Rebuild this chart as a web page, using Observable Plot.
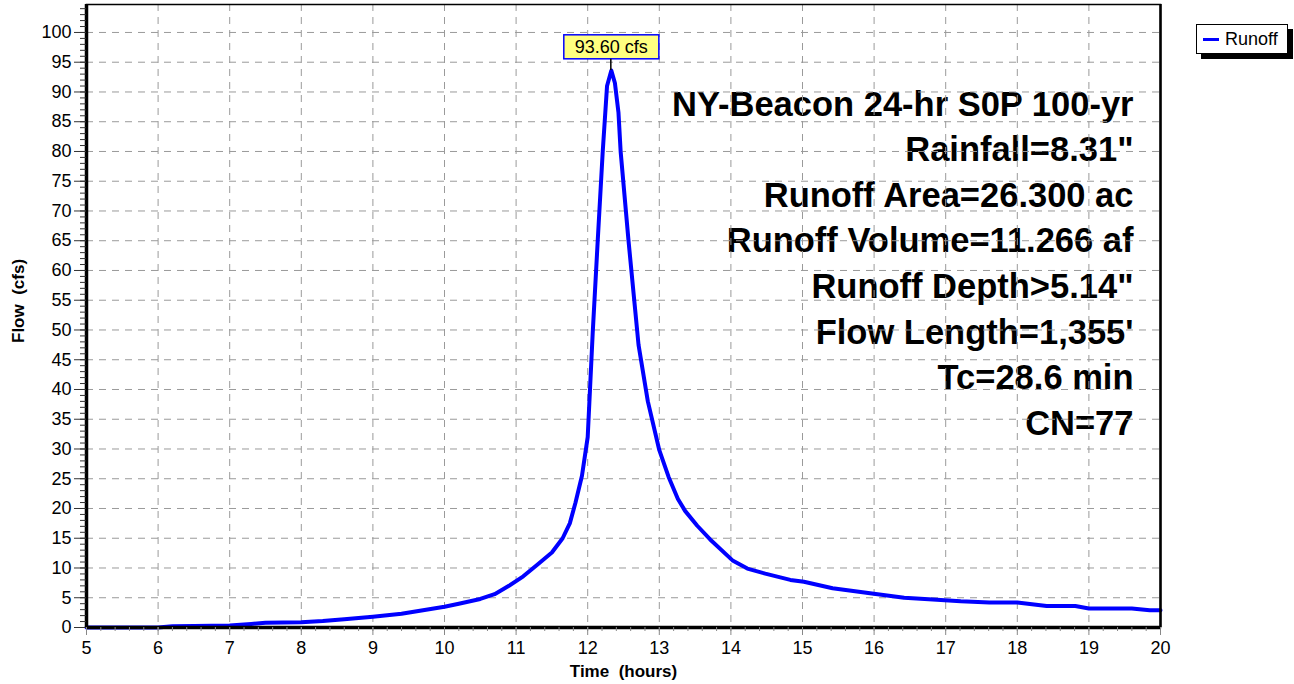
<!DOCTYPE html>
<html>
<head>
<meta charset="utf-8">
<script src="https://cdn.jsdelivr.net/npm/d3@7"></script>
<script src="https://cdn.jsdelivr.net/npm/@observablehq/plot@0.6"></script>
<style>
  body { margin: 0; background: #fff; }
  #wrap { position: relative; width: 1294px; height: 684px; }
  #legend { position: absolute; left: 1196px; top: 24px; width: 90px; height: 28px;
    border: 1px solid #000; background: #fff; box-shadow: 5px 5px 0 #000;
    font: 18px "Liberation Sans", Arial, sans-serif; color: #000; }
  #legend .sw { position: absolute; left: 6px; top: 13px; width: 16px; height: 3px; background: #0000ff; }
  #legend .lb { position: absolute; left: 28px; top: 0; line-height: 28px; }
</style>
</head>
<body>
<div id="wrap">
  <div id="legend"><span class="sw"></span><span class="lb" id="legendLabel"></span></div>
</div>
<script>
const seriesName = "Runoff";
const times = [5.0, 6.0, 6.2, 6.5, 7.0, 7.3, 7.5, 8.0, 8.3, 8.6, 9.0, 9.4, 9.7, 10.0, 10.2, 10.5, 10.7, 10.9,
  11.1, 11.3, 11.5, 11.65, 11.75, 11.83, 11.92, 12.0, 12.07, 12.14, 12.21, 12.27, 12.33, 12.38, 12.43, 12.46,
  12.57, 12.65, 12.71, 12.84, 13.0, 13.13, 13.26, 13.36, 13.53, 13.71, 14.03, 14.23, 14.48, 14.83, 15.02,
  15.42, 15.97, 16.42, 16.82, 17.21, 17.61, 18.0, 18.41, 18.81, 19.0, 19.6, 19.85, 20.0];
const flows = [0, 0, 0.2, 0.25, 0.35, 0.6, 0.8, 0.9, 1.1, 1.4, 1.8, 2.3, 2.9, 3.5, 4.0, 4.8, 5.6, 7.0,
  8.6, 10.6, 12.6, 15.0, 17.5, 21.0, 25.5, 32.0, 49.5, 65.0, 80.0, 91.0, 93.6, 91.5, 86.5, 80.0,
  65.0, 55.0, 47.5, 38.0, 29.8, 25.3, 21.6, 19.6, 17.1, 14.8, 11.2, 9.9, 9.05, 8.0, 7.7,
  6.6, 5.7, 5.0, 4.7, 4.4, 4.2, 4.2, 3.6, 3.6, 3.2, 3.2, 2.9, 2.9];
const peakTime = 12.33;
const peakFlow = 93.60;
const statsLines = ["NY-Beacon 24-hr S0P 100-yr", "Rainfall=8.31\"", "Runoff Area=26.300 ac",
  "Runoff Volume=11.266 af", "Runoff Depth>5.14\"", "Flow Length=1,355'", "Tc=28.6 min", "CN=77"];
const xLabel = "Time\u00a0 (hours)";
const yLabel = "Flow\u00a0 (cfs)";
const xMajor = [5, 6, 7, 8, 9, 10, 11, 12, 13, 14, 15, 16, 17, 18, 19, 20];
const yMajor = [0, 5, 10, 15, 20, 25, 30, 35, 40, 45, 50, 55, 60, 65, 70, 75, 80, 85, 90, 95, 100];
const xMinor = d3.range(0, 76).map(i => 5 + i * 0.2);
const yMinor = d3.range(0, 105);

const data = times.map((t, i) => ({t, v: flows[i]}));
const peakLabel = `${peakFlow.toFixed(2)} cfs`;
const FONT = "'Liberation Sans', Arial, Helvetica, sans-serif";

const plot = Plot.plot({
  width: 1294, height: 684,
  marginLeft: 86, marginRight: 134, marginTop: 4, marginBottom: 57,
  x: {domain: [5, 20]},
  y: {domain: [0, 104.7]},
  style: {fontFamily: FONT, fontSize: "18px", background: "white", color: "black", overflow: "visible"},
  marks: [
    Plot.text([statsLines.join("\n")], {frameAnchor: "top-right", textAnchor: "end", lineAnchor: "top",
      dx: -27, dy: 79, fontSize: 34.5, fontWeight: "bold", lineHeight: 1.32, fill: "black"}),
    Plot.gridX(xMajor.slice(1, -1), {stroke: "#9a9a9a", strokeOpacity: 1, strokeDasharray: "7,6"}),
    Plot.gridY(yMajor.slice(1), {stroke: "#9a9a9a", strokeOpacity: 1, strokeDasharray: "7,6"}),
    Plot.line(data, {x: "t", y: "v", stroke: "#0000ff", strokeWidth: 4}),
    Plot.frame({stroke: "black", strokeWidth: 1.5}),
    Plot.ruleX([20], {stroke: "black", strokeWidth: 2.5}),
    Plot.ruleX([5], {stroke: "black", strokeWidth: 3.5}),
    Plot.ruleY([0], {stroke: "black", strokeWidth: 3.5}),
    Plot.axisY(yMinor, {tickSize: 6, fill: "none", stroke: "#333", label: null}),
    Plot.axisY(yMajor, {tickSize: 12, tickPadding: 3, stroke: "#333", fill: "black", fontSize: 18, label: null}),
    Plot.axisX(xMinor, {tickSize: 4, fill: "none", stroke: "#888", label: null}),
    Plot.axisX(xMajor, {tickSize: 8, tickPadding: 6, stroke: "#888", fill: "black", fontSize: 18, label: null}),
    Plot.text([yLabel], {frameAnchor: "left", rotate: -90, dx: -68, dy: 27, fontSize: 17, fontWeight: "bold", fill: "black"}),
    Plot.text([xLabel], {frameAnchor: "bottom", lineAnchor: "middle", dy: 44, fontSize: 17, fontWeight: "bold", fill: "black"}),
    Plot.text([{t: peakTime, v: peakFlow}], {x: "t", y: "v", text: () => peakLabel, dy: -23.5,
      lineAnchor: "middle", fontSize: 18, fill: "black"})
  ]
});

const wrap = document.getElementById("wrap");
wrap.insertBefore(plot, wrap.firstChild);
plot.style.position = "absolute"; plot.style.left = "0"; plot.style.top = "0";
document.getElementById("legendLabel").textContent = seriesName;

// peak callout box + leader line, positioned from Plot's own scales and text
const ns = "http://www.w3.org/2000/svg";
const txt = Array.from(plot.querySelectorAll("text")).find(e => e.textContent === peakLabel);
if (txt) {
  const sb = plot.getBoundingClientRect(), tb = txt.getBoundingClientRect();
  const bx = tb.left - sb.left - 11, by = tb.top - sb.top - 2, bw = tb.width + 22, bh = tb.height + 4;
  const rect = document.createElementNS(ns, "rect");
  rect.setAttribute("x", bx); rect.setAttribute("y", by);
  rect.setAttribute("width", bw); rect.setAttribute("height", bh);
  rect.setAttribute("fill", "#ffff80"); rect.setAttribute("stroke", "#0000ff"); rect.setAttribute("stroke-width", 1.5);
  const px = plot.scale("x").apply(peakTime), py = plot.scale("y").apply(peakFlow);
  const ln = document.createElementNS(ns, "line");
  ln.setAttribute("x1", px); ln.setAttribute("x2", px);
  ln.setAttribute("y1", by + bh); ln.setAttribute("y2", py);
  ln.setAttribute("stroke", "black"); ln.setAttribute("stroke-width", 1.5);
  let g = txt; while (g.parentNode !== plot) g = g.parentNode;
  plot.insertBefore(rect, g); plot.insertBefore(ln, g);
}
</script>
</body>
</html>
